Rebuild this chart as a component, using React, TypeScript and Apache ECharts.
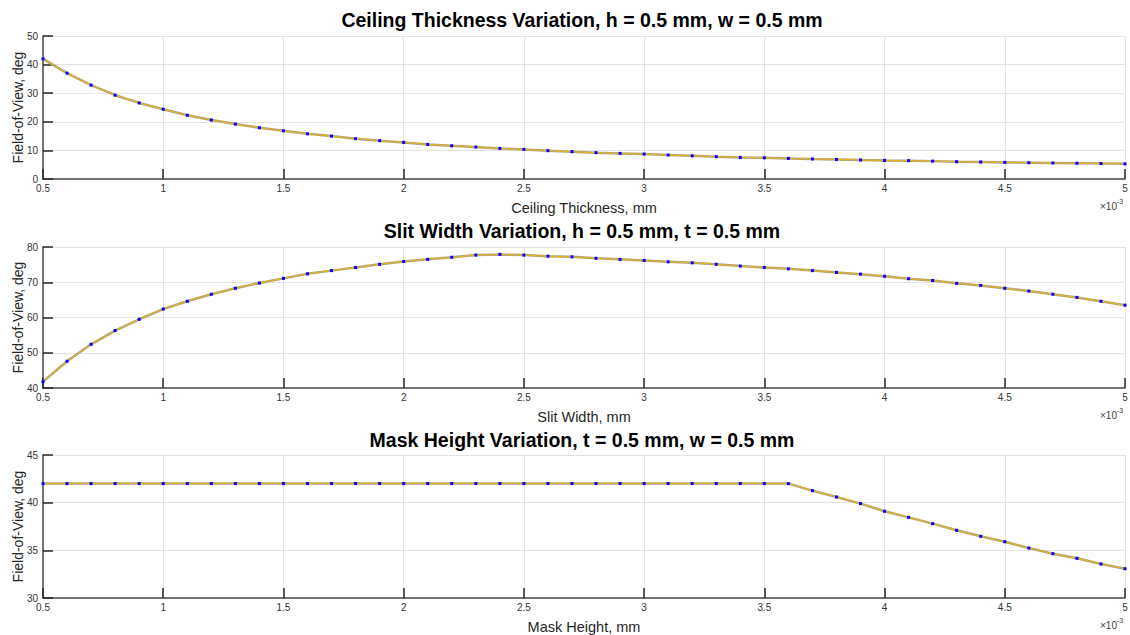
import React, { useEffect, useRef } from "react";
import * as echarts from "echarts";

const xValues = [0.5, 0.6, 0.7, 0.8, 0.9, 1.0, 1.1, 1.2, 1.3, 1.4, 1.5, 1.6, 1.7, 1.8, 1.9, 2.0, 2.1, 2.2, 2.3, 2.4, 2.5, 2.6, 2.7, 2.8, 2.9, 3.0, 3.1, 3.2, 3.3, 3.4, 3.5, 3.6, 3.7, 3.8, 3.9, 4.0, 4.1, 4.2, 4.3, 4.4, 4.5, 4.6, 4.7, 4.8, 4.9, 5.0];

const ceilingFov = [42.0, 37.0, 32.8, 29.3, 26.6, 24.4, 22.3, 20.6, 19.2, 17.9, 16.85, 15.8, 15.0, 14.1, 13.4, 12.8, 12.1, 11.6, 11.15, 10.7, 10.35, 9.9, 9.55, 9.2, 8.95, 8.7, 8.4, 8.1, 7.8, 7.55, 7.4, 7.2, 7.0, 6.85, 6.65, 6.5, 6.4, 6.25, 6.05, 5.95, 5.8, 5.7, 5.6, 5.5, 5.4, 5.3];

const slitFov = [41.8, 47.6, 52.4, 56.3, 59.5, 62.4, 64.6, 66.6, 68.3, 69.8, 71.1, 72.4, 73.3, 74.2, 75.1, 75.9, 76.5, 77.1, 77.7, 77.9, 77.7, 77.4, 77.2, 76.8, 76.5, 76.2, 75.8, 75.5, 75.1, 74.6, 74.2, 73.8, 73.3, 72.8, 72.3, 71.7, 71.0, 70.5, 69.7, 69.1, 68.3, 67.5, 66.6, 65.7, 64.6, 63.5];

const maskFov = [42, 42, 42, 42, 42, 42, 42, 42, 42, 42, 42, 42, 42, 42, 42, 42, 42, 42, 42, 42, 42, 42, 42, 42, 42, 42, 42, 42, 42, 42, 42, 42.0, 41.26, 40.6, 39.9, 39.1, 38.46, 37.8, 37.1, 36.47, 35.9, 35.24, 34.65, 34.16, 33.57, 33.07];

const titles = [
  "Ceiling Thickness Variation, h = 0.5 mm, w = 0.5 mm",
  "Slit Width Variation, h = 0.5 mm, t = 0.5 mm",
  "Mask Height Variation, t = 0.5 mm, w = 0.5 mm",
];
const xNames = ["Ceiling Thickness, mm", "Slit Width, mm", "Mask Height, mm"];
const yName = "Field-of-View, deg";
const yRanges = [
  [0, 50, 10],
  [40, 80, 10],
  [30, 45, 5],
];
const seriesData = [ceilingFov, slitFov, maskFov];

const gridTops = [36, 247, 455];
const gridHeights = [143, 141, 143];
const titleTops = [10, 221, 430];

export default function App() {
  const ref = useRef<HTMLDivElement>(null);
  useEffect(() => {
    if (!ref.current) return;
    const chart = echarts.init(ref.current, null, { renderer: "svg" });
    const font = "Liberation Sans, Arial, Helvetica, sans-serif";
    const axisDark = "#262626";
    const grids = gridTops.map((t, i) => ({
      left: 43,
      right: 5,
      top: t,
      height: gridHeights[i],
      containLabel: false,
      outerBoundsMode: "none",
    }));
    const xAxes = gridTops.map((_, i) => ({
      type: "value",
      gridIndex: i,
      min: 0.5,
      max: 5,
      interval: 0.5,
      name: xNames[i],
      nameLocation: "middle",
      nameGap: 21,
      nameMoveOverlap: false,
      nameTextStyle: { fontSize: 14.5, color: axisDark, fontFamily: font },
      axisLine: { show: true, onZero: false, lineStyle: { color: "#4d4d4d", width: 1.5 } },
      axisTick: { show: true, inside: true, length: 10, lineStyle: { color: axisDark, width: 1.5 } },
      axisLabel: { fontSize: 10, color: "#333333", margin: 4, fontFamily: font },
      splitLine: { show: true, lineStyle: { color: "#e3e3e3", width: 1 } },
    }));
    const yAxes = yRanges.map((r, i) => ({
      type: "value",
      gridIndex: i,
      min: r[0],
      max: r[1],
      interval: r[2],
      name: yName,
      nameLocation: "middle",
      nameGap: 18,
      nameMoveOverlap: false,
      nameTextStyle: { fontSize: 14, color: axisDark, fontFamily: font },
      axisLine: { show: true, onZero: false, lineStyle: { color: "#4d4d4d", width: 1.5 } },
      axisTick: { show: true, inside: true, length: 10, lineStyle: { color: axisDark, width: 1.5 } },
      axisLabel: { fontSize: 10, color: "#333333", margin: 5, fontFamily: font },
      splitLine: { show: true, lineStyle: { color: "#e3e3e3", width: 1 } },
    }));
    const series: any[] = [];
    seriesData.forEach((d, i) => {
      const pts = xValues.map((x, k) => [x, d[k]]);
      series.push({
        type: "line",
        xAxisIndex: i,
        yAxisIndex: i,
        data: pts,
        showSymbol: false,
        symbol: "none",
        lineStyle: { color: "#a9a57c", width: 2.5 },
        z: 2,
      });
      series.push({
        type: "line",
        xAxisIndex: i,
        yAxisIndex: i,
        data: pts,
        symbol: "rect",
        symbolSize: 3,
        itemStyle: { color: "#0000ff" },
        lineStyle: { color: "#EDB120", width: 1 },
        z: 3,
      });
    });
    const graphics: any[] = [];
    gridTops.forEach((t, i) => {
      const bottom = t + gridHeights[i];
      graphics.push({
        type: "text",
        x: 1100,
        y: bottom + 22,
        style: { text: "×10", fontSize: 10, fill: "#404040", font: `10px ${font}` },
      });
      graphics.push({
        type: "text",
        x: 1117,
        y: bottom + 19,
        style: { text: "-3", fontSize: 7, fill: "#404040", font: `7px ${font}` },
      });
    });
    chart.setOption({
      animation: false,
      backgroundColor: "#ffffff",
      title: titles.map((tx, i) => ({
        text: tx,
        left: 582,
        textAlign: "center",
        top: titleTops[i],
        padding: 0,
        textStyle: { fontSize: 19.5, fontWeight: "bold", color: "#000000", fontFamily: font },
      })),
      grid: grids,
      xAxis: xAxes,
      yAxis: yAxes,
      series,
      graphic: graphics,
    });
    return () => chart.dispose();
  }, []);
  return (
    <div
      ref={ref}
      style={{ position: "fixed", left: 0, top: 0, width: 1130, height: 635, background: "#fff" }}
    />
  );
}
